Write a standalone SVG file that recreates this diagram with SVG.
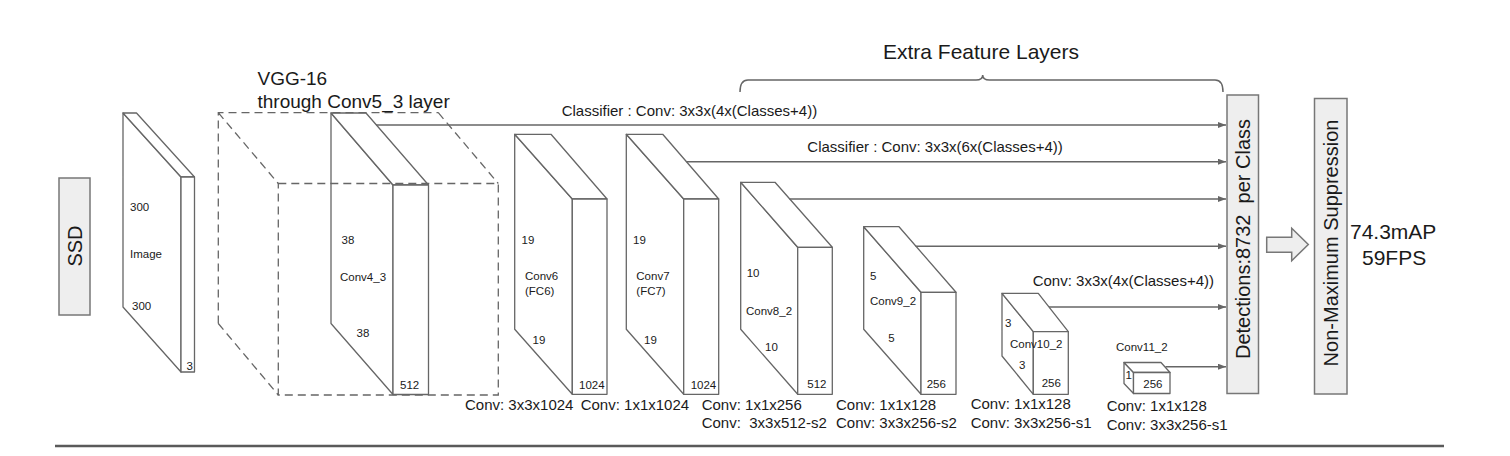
<svg xmlns="http://www.w3.org/2000/svg" width="1510" height="456" viewBox="0 0 1510 456">
<defs>
<style>
text{font-family:"Liberation Sans",Arial,sans-serif;fill:#1a1a1a}
.s{font-size:11.5px}
.m{font-size:15px;white-space:pre}
.l{font-size:20px}
.xl{font-size:21px}
.f{fill:#fff;stroke:#666;stroke-width:1.3;stroke-linejoin:round}
.d{fill:none;stroke:#666;stroke-width:1.3;stroke-dasharray:8 5}
.c{fill:none;stroke:#666;stroke-width:1.5}
.b{fill:#eee;stroke:#777;stroke-width:1.5}
</style>
<marker id="ah" markerUnits="userSpaceOnUse" markerWidth="9" markerHeight="7" refX="8" refY="3" orient="auto">
<path d="M0,0 L8,3 L0,6 z" fill="#666"/>
</marker>
</defs>
<rect width="1510" height="456" fill="#fff"/>

<g id="ssd">
<rect class="b" x="59" y="178" width="31" height="137"/>
<text class="l" text-anchor="middle" transform="translate(81.5,246) rotate(-90)">SSD</text>
</g>

<g id="image">
<polygon class="f" points="123,113 181,177 181,372 123,307"/>
<polygon class="f" points="123,113 136.5,113 194.5,177 181,177"/>
<rect class="f" x="181" y="177" width="13.5" height="195"/>
<text class="s" x="130" y="211">300</text>
<text class="s" x="130" y="258">Image</text>
<text class="s" x="132" y="310">300</text>
<text class="s" x="186.5" y="370">3</text>
</g>

<g id="conv4_3">
<polygon class="f" points="331,113 393,185 393,394.5 331,323.5"/>
<polygon class="f" points="331,113 366,113 428.5,185 393,185"/>
<rect class="f" x="393" y="185" width="35.5" height="209.5"/>
<text class="s" x="341.5" y="244">38</text>
<text class="s" x="340" y="281">Conv4_3</text>
<text class="s" x="356.5" y="337">38</text>
<text class="s" x="400" y="389">512</text>
</g>

<g id="vgg16">
<path class="d" d="M218.3,323.5 L218.3,112.7 L438.3,112.7 M218.3,112.7 L278.3,183.5 M438.3,112.7 L498.3,183.5 M218.3,323.5 L278.3,395"/>
<rect class="d" x="278.3" y="183.5" width="220" height="211.5"/>
<text class="xl" style="font-size:19px" x="257.5" y="85">VGG-16</text>
<text class="xl" style="font-size:19px" x="257.5" y="108">through Conv5_3 layer</text>
</g>

<g id="conv6">
<polygon class="f" points="514.7,134.3 572.3,199 572.3,394.3 514.7,329.3"/>
<polygon class="f" points="514.7,134.3 551,134.3 607,199 572.3,199"/>
<rect class="f" x="572.3" y="199" width="34.7" height="195.3"/>
<text class="s" x="521.5" y="244">19</text>
<text class="s" x="525" y="280">Conv6</text>
<text class="s" x="525" y="295">(FC6)</text>
<text class="s" x="532.5" y="344">19</text>
<text class="s" x="579" y="389">1024</text>
<text class="m" x="465" y="409.5">Conv: 3x3x1024</text>
</g>

<g id="conv7">
<polygon class="f" points="626.3,134.3 683.7,199 683.7,394.3 626.3,329.3"/>
<polygon class="f" points="626.3,134.3 662.7,134.3 718.7,199 683.7,199"/>
<rect class="f" x="683.7" y="199" width="35" height="195.3"/>
<text class="s" x="633" y="244">19</text>
<text class="s" x="636.3" y="280">Conv7</text>
<text class="s" x="636.3" y="295">(FC7)</text>
<text class="s" x="644" y="344">19</text>
<text class="s" x="690.7" y="389">1024</text>
<text class="m" x="580.7" y="409.5">Conv: 1x1x1024</text>
</g>

<g id="conv8_2">
<polygon class="f" points="740.7,182.3 797.7,247.3 797.7,394.3 740.7,329.3"/>
<polygon class="f" points="740.7,182.3 775,182.3 832.3,247.3 797.7,247.3"/>
<rect class="f" x="797.7" y="247.3" width="34.6" height="147"/>
<text class="s" x="746.7" y="276.5">10</text>
<text class="s" x="746" y="315">Conv8_2</text>
<text class="s" x="765" y="351">10</text>
<text class="s" x="807.3" y="387.5">512</text>
<text class="m" x="701.7" y="409.5">Conv: 1x1x256</text>
<text class="m" x="701.7" y="428">Conv:  3x3x512-s2</text>
</g>

<g id="conv9_2">
<polygon class="f" points="863.7,226.7 921,292.3 921,394.3 863.7,329.3"/>
<polygon class="f" points="863.7,226.7 899,226.7 956,292.3 921,292.3"/>
<rect class="f" x="921" y="292.3" width="35" height="102"/>
<text class="s" x="870" y="280">5</text>
<text class="s" x="870" y="305">Conv9_2</text>
<text class="s" x="888.3" y="341.5">5</text>
<text class="s" x="926.7" y="388">256</text>
<text class="m" x="836" y="409.5">Conv: 1x1x128</text>
<text class="m" x="836" y="428">Conv: 3x3x256-s2</text>
</g>

<g id="conv10_2">
<polygon class="f" points="1002,293.3 1033.3,331.7 1033.3,394.3 1002,356"/>
<polygon class="f" points="1002,293.3 1038.3,293.3 1068.3,331.7 1033.3,331.7"/>
<rect class="f" x="1033.3" y="331.7" width="35" height="62.6"/>
<text class="s" x="1005" y="327">3</text>
<text class="s" x="1010" y="348">Conv10_2</text>
<text class="s" x="1019" y="368.5">3</text>
<text class="s" x="1041.7" y="387">256</text>
<text class="m" x="970.7" y="409">Conv: 1x1x128</text>
<text class="m" x="970.7" y="427.5">Conv: 3x3x256-s1</text>
</g>

<g id="conv11_2">
<polygon class="f" points="1124,362.5 1133.5,372.5 1133.5,393.5 1124,383.5"/>
<polygon class="f" points="1124,362.5 1161,362.5 1170,372.5 1133.5,372.5"/>
<rect class="f" x="1133.5" y="372.5" width="36.5" height="21"/>
<text class="s" x="1116" y="350.5">Conv11_2</text>
<text class="s" x="1125.5" y="379">1</text>
<text class="s" x="1143.3" y="388">256</text>
<text class="m" x="1106.7" y="410.5">Conv: 1x1x128</text>
<text class="m" x="1106.7" y="429.5">Conv: 3x3x256-s1</text>
</g>

<g id="extra-feature-layers">
<path class="c" d="M740,92 Q740,80 748,80 L976,80 Q982.7,80 982.7,75 Q982.7,80 989.5,80 L1215,80 Q1223,80 1223,92"/>
<text class="xl" x="981" y="59" text-anchor="middle">Extra Feature Layers</text>
</g>

<g id="detections">
<rect class="b" x="1227" y="95" width="31.5" height="298.5"/>
<text class="l" style="white-space:pre" text-anchor="middle" transform="translate(1250,239) rotate(-90)">Detections:8732  per Class</text>
</g>

<g id="nms">
<rect class="b" x="1314.5" y="98.5" width="32.5" height="295.5"/>
<text class="l" text-anchor="middle" transform="translate(1337.5,243) rotate(-90)">Non-Maximum Suppression</text>
</g>

<g id="result">
<text class="xl" x="1350" y="239">74.3mAP</text>
<text class="xl" x="1362" y="265">59FPS</text>
</g>

<g id="connectors">
<line class="c" x1="376" y1="125" x2="1226" y2="125" marker-end="url(#ah)"/>
<line class="c" x1="686.5" y1="161.7" x2="1226" y2="161.7" marker-end="url(#ah)"/>
<line class="c" x1="789.5" y1="199" x2="1226" y2="199" marker-end="url(#ah)"/>
<line class="c" x1="915.5" y1="246.3" x2="1226" y2="246.3" marker-end="url(#ah)"/>
<line class="c" x1="1049" y1="307" x2="1226" y2="307" marker-end="url(#ah)"/>
<line class="c" x1="1165.5" y1="366.7" x2="1226" y2="366.7" marker-end="url(#ah)"/>
<text class="m" x="561.7" y="116">Classifier : Conv: 3x3x(4x(Classes+4))</text>
<text class="m" x="807.3" y="152">Classifier : Conv: 3x3x(6x(Classes+4))</text>
<text class="m" x="1032.7" y="285.5">Conv: 3x3x(4x(Classes+4))</text>
<polygon class="b" points="1266.7,237.3 1291.7,237.3 1291.7,228.3 1308.3,244.5 1291.7,260.7 1291.7,252.3 1266.7,252.3"/>
</g>

<line x1="55" y1="446" x2="1444" y2="446" stroke="#5a5a5a" stroke-width="2.5"/>
</svg>
